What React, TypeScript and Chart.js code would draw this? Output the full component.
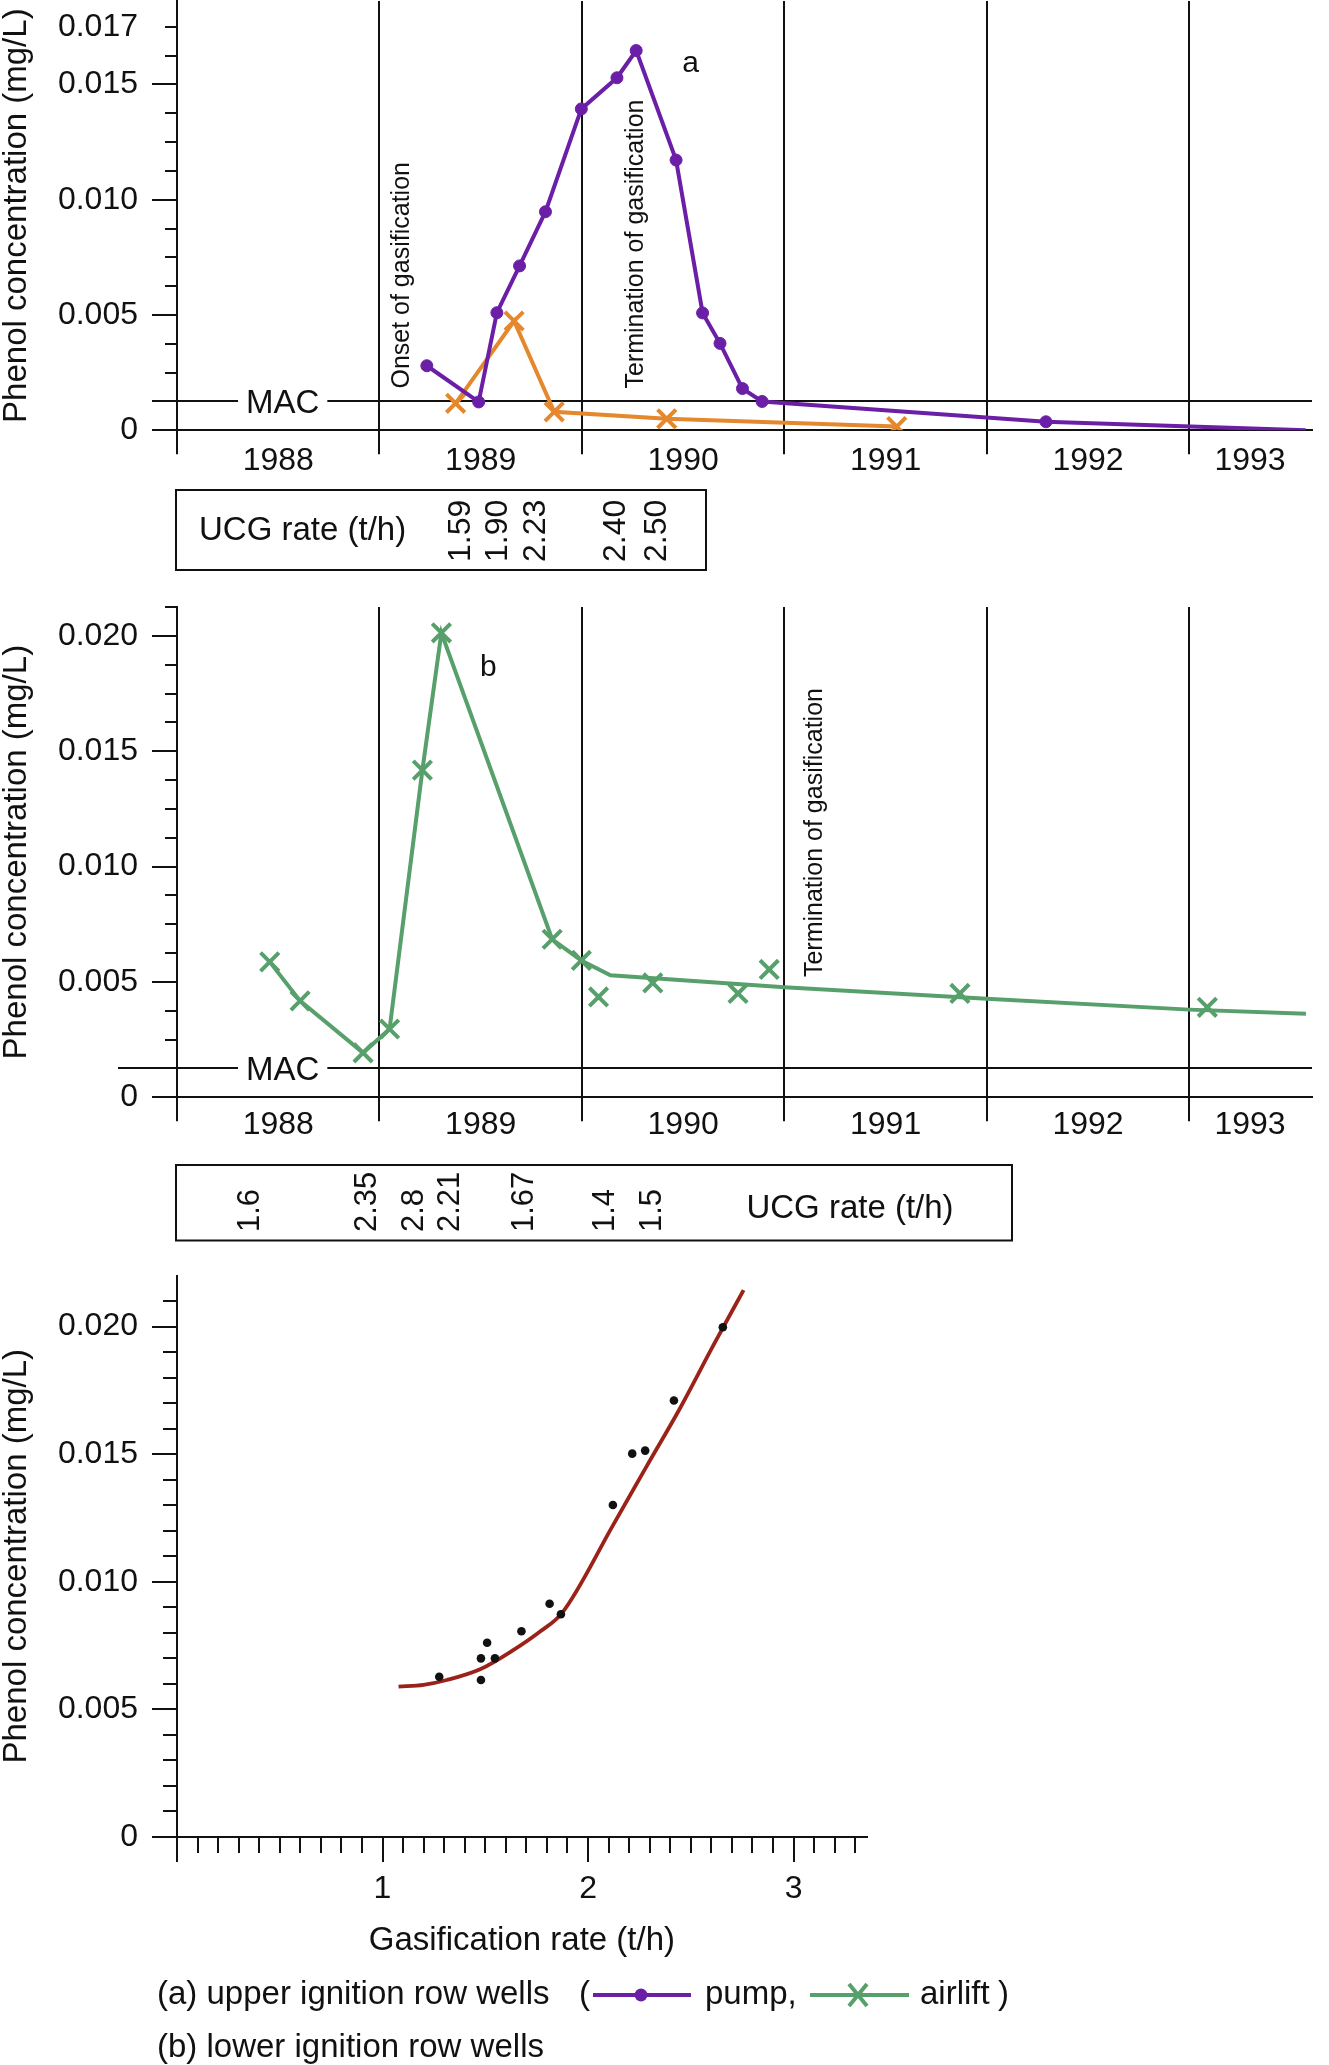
import React, { useEffect, useRef } from "react";
import { Chart, registerables } from "chart.js";

Chart.register(...registerables);

const FONT_FAMILY = "'Liberation Sans', Arial, Helvetica, sans-serif";
const INK = "#111111";
const PUMP_COLOR = "#6b1fa6";
const AIRLIFT_A_COLOR = "#e5872c";
const AIRLIFT_COLOR = "#57a06b";
const FIT_COLOR = "#9b2219";
const DOT_COLOR = "#111111";

Chart.defaults.font.family = FONT_FAMILY;
Chart.defaults.color = INK;

// ---------- shared time axis (panels a and b) ----------
const yearBoundaries = [1988, 1989, 1990, 1991, 1992, 1993];
const yearLabels = ["1988", "1989", "1990", "1991", "1992", "1993"];
const yearLabelPositions = [1988.5, 1989.5, 1990.5, 1991.5, 1992.5, 1993.3];
const TIME_MIN = 1988;
const TIME_MAX = 1993.606;
const MAC = 0.00125;
const MAC_LABEL_YEAR = 1988.522;

// ---------- panel (a): upper ignition row wells ----------
const pumpYearsA = [1989.234, 1989.49, 1989.58, 1989.692, 1989.82, 1989.997, 1990.173, 1990.268, 1990.465, 1990.596, 1990.682, 1990.793, 1990.89, 1992.292, 1993.575];
const pumpValuesA = [0.0028, 0.00123, 0.0051, 0.00713, 0.00948, 0.01394, 0.01529, 0.01647, 0.01172, 0.00509, 0.00377, 0.00181, 0.00125, 0.00037, 0.0];
const airliftYearsA = [1989.376, 1989.665, 1989.863, 1990.419, 1991.555];
const airliftValuesA = [0.00117, 0.00474, 0.0008, 0.0005, 0.00016];
const yMaxA = 0.01862;
const yTicksA = [0, 0.005, 0.01, 0.015, 0.0175];
const yTickLabelsA = ["0", "0.005", "0.010", "0.015", "0.017"];
const yMinorTicksA = [0.00125, 0.0025, 0.00375, 0.00625, 0.0075, 0.00875, 0.01125, 0.0125, 0.01375, 0.01625, 0.0175];
const ucgRatesA = ["1.59", "1.90", "2.23", "2.40", "2.50"];
const ucgRateYearsA = [1989.403, 1989.585, 1989.773, 1990.168, 1990.373];

// ---------- panel (b): lower ignition row wells ----------
const airliftYearsB = [1988.458, 1988.608, 1988.919, 1989.05, 1989.212, 1989.306, 1989.853, 1989.997, 1990.082, 1990.35, 1990.771, 1990.925, 1991.867, 1993.089];
const airliftValuesB = [0.00587, 0.00418, 0.00193, 0.00296, 0.01418, 0.02013, 0.00685, 0.00593, 0.00435, 0.00496, 0.0045, 0.00554, 0.0045, 0.0039];
const trendYearsB = [1988.458, 1988.608, 1988.919, 1989.05, 1989.212, 1989.306, 1989.853, 1989.997, 1990.141, 1991.0, 1992.0, 1993.0, 1993.576];
const trendValuesB = [0.00587, 0.00418, 0.00193, 0.00296, 0.01418, 0.02013, 0.00685, 0.00593, 0.00529, 0.00477, 0.00427, 0.0038, 0.00362];
const yMaxB = 0.02125;
const yTicksB = [0, 0.005, 0.01, 0.015, 0.02];
const yTickLabelsB = ["0", "0.005", "0.010", "0.015", "0.020"];
const yMinorTicksB = [0.00125, 0.0025, 0.00375, 0.00625, 0.0075, 0.00875, 0.01125, 0.0125, 0.01375, 0.01625, 0.0175, 0.01875, 0.02125];
const ucgRatesB = ["1.6", "2.35", "2.8", "2.21", "1.67", "1.4", "1.5"];
const ucgRateYearsB = [1988.364, 1988.942, 1989.173, 1989.352, 1989.717, 1990.114, 1990.348];

// ---------- panel (c): concentration vs gasification rate ----------
const rateObs = [1.276, 1.479, 1.509, 1.547, 1.479, 1.676, 1.813, 1.868, 2.121, 2.215, 2.278, 2.418, 2.656];
const concObs = [0.00628, 0.007, 0.00761, 0.007, 0.00615, 0.00806, 0.00914, 0.00873, 0.01301, 0.01502, 0.01514, 0.0171, 0.01997];
const rateFit = [1.078, 1.2, 1.313, 1.475, 1.638, 1.767, 1.873, 2.124, 2.287, 2.449, 2.611, 2.757];
const concFit = [0.00589, 0.00596, 0.00615, 0.00657, 0.00733, 0.00805, 0.00877, 0.01225, 0.01455, 0.01682, 0.01928, 0.02143];
const yTicksC = [0, 0.005, 0.01, 0.015, 0.02];
const yTickLabelsC = ["0", "0.005", "0.010", "0.015", "0.020"];
const yMinorTicksC = [0.001, 0.002, 0.003, 0.004, 0.006, 0.007, 0.008, 0.009, 0.011, 0.012, 0.013, 0.014, 0.016, 0.017, 0.018, 0.019, 0.021];
const xTicksC = [0, 1, 2, 3];
const xTickLabelsC = ["", "1", "2", "3"];
const xMinorTicksC = [0.1, 0.2, 0.3, 0.4, 0.5, 0.6, 0.7, 0.8, 0.9, 1.1, 1.2, 1.3, 1.4, 1.5, 1.6, 1.7, 1.8, 1.9, 2.1, 2.2, 2.3, 2.4, 2.5, 2.6, 2.7, 2.8, 2.9, 3.1, 3.2, 3.3];

const W = 1329;
// canvas placement on the page
const A_TOP = -16;
const A_H = 606;
const B_TOP = 590;
const B_H = 670;
const C_TOP = 1260;
const C_H = 805;
const C_XAXIS_H = 120.4;

function font(size: number) {
  return `${size}px ${FONT_FAMILY}`;
}

function pts(xs: number[], ys: number[]) {
  return xs.map((x, i) => ({ x, y: ys[i] }));
}

function drawRotatedText(ctx: CanvasRenderingContext2D, text: string, x: number, y: number, size: number) {
  ctx.save();
  ctx.translate(x, y);
  ctx.rotate(-Math.PI / 2);
  ctx.font = font(size);
  ctx.fillStyle = INK;
  ctx.textAlign = "left";
  ctx.textBaseline = "middle";
  ctx.fillText(text, 0, 0);
  ctx.restore();
}

function drawMinorYTicks(chart: any, values: number[], len: number) {
  const { ctx, chartArea, scales } = chart;
  ctx.save();
  ctx.strokeStyle = INK;
  ctx.lineWidth = 2;
  values.forEach((v) => {
    const py = Math.round(scales.y.getPixelForValue(v));
    ctx.beginPath();
    ctx.moveTo(chartArea.left - len, py);
    ctx.lineTo(chartArea.left, py);
    ctx.stroke();
  });
  ctx.restore();
}

function drawMAC(chart: any, leftOverhang: number) {
  const { ctx, chartArea, scales } = chart;
  const y = Math.round(scales.y.getPixelForValue(MAC));
  const cx = scales.x.getPixelForValue(MAC_LABEL_YEAR);
  ctx.save();
  ctx.font = font(33);
  const w = ctx.measureText("MAC").width;
  const gap = 8;
  ctx.strokeStyle = INK;
  ctx.lineWidth = 2;
  ctx.beginPath();
  ctx.moveTo(chartArea.left - leftOverhang, y);
  ctx.lineTo(cx - w / 2 - gap, y);
  ctx.moveTo(cx + w / 2 + gap, y);
  ctx.lineTo(chartArea.right, y);
  ctx.stroke();
  ctx.fillStyle = INK;
  ctx.textAlign = "center";
  ctx.textBaseline = "alphabetic";
  ctx.fillText("MAC", cx, y + 11.5);
  ctx.restore();
}

function drawYearLabels(chart: any, centerY: number) {
  const { ctx, scales } = chart;
  ctx.save();
  ctx.font = font(32);
  ctx.fillStyle = INK;
  ctx.textAlign = "center";
  ctx.textBaseline = "middle";
  yearLabels.forEach((t, i) => ctx.fillText(t, scales.x.getPixelForValue(yearLabelPositions[i]), centerY));
  ctx.restore();
}

function drawUcgBox(
  chart: any,
  box: { left: number; right: number; top: number; bottom: number },
  rates: string[],
  years: number[],
  numberBottom: number,
  numberSize: number,
  title: { x: number; y: number; align: CanvasTextAlign }
) {
  const { ctx, scales } = chart;
  ctx.save();
  ctx.strokeStyle = INK;
  ctx.lineWidth = 2;
  ctx.strokeRect(box.left, box.top, box.right - box.left, box.bottom - box.top);
  ctx.font = font(33);
  ctx.fillStyle = INK;
  ctx.textAlign = title.align;
  ctx.textBaseline = "middle";
  ctx.fillText("UCG rate (t/h)", title.x, title.y);
  ctx.restore();
  rates.forEach((r, i) => drawRotatedText(ctx, r, scales.x.getPixelForValue(years[i]), numberBottom, numberSize));
}

function timeAxisX() {
  return {
    type: "linear",
    min: TIME_MIN,
    max: TIME_MAX,
    afterBuildTicks: (s: any) => {
      s.ticks = yearBoundaries.map((v) => ({ value: v }));
    },
    afterFit: (s: any) => {
      s.height = 24;
      s.paddingLeft = 0;
      s.paddingRight = 0;
    },
    ticks: { display: false },
    grid: { display: true, drawOnChartArea: true, drawTicks: true, tickLength: 24, color: INK, lineWidth: 2 },
    border: { display: true, color: INK, width: 2 },
  };
}

function concAxisY(max: number, ticks: number[], labels: string[], hideTickAt: number | null) {
  return {
    type: "linear",
    min: 0,
    max,
    afterBuildTicks: (s: any) => {
      s.ticks = ticks.map((v) => ({ value: v }));
    },
    afterFit: (s: any) => {
      s.width = 177;
      s.paddingTop = 0;
      s.paddingBottom = 0;
    },
    ticks: {
      callback: (_v: any, i: number) => labels[i],
      font: { size: 32, family: FONT_FAMILY },
      color: INK,
      padding: 14,
      autoSkip: false,
    },
    grid: {
      drawOnChartArea: false,
      drawTicks: true,
      tickLength: 25,
      color: INK,
      lineWidth: 2,
      tickColor: (c: any) => (hideTickAt !== null && c.tick && c.tick.value === hideTickAt ? "rgba(0,0,0,0)" : INK),
    },
    border: { display: true, color: INK, width: 2 },
    title: {
      display: true,
      text: "Phenol concentration (mg/L)",
      font: { size: 33, family: FONT_FAMILY, lineHeight: 1 },
      color: INK,
      padding: { top: 0, bottom: 0 },
    },
  };
}

const baseOptions = {
  responsive: false,
  maintainAspectRatio: false,
  animation: false,
  devicePixelRatio: 1,
  events: [],
  plugins: { legend: { display: false }, tooltip: { enabled: false } },
};

// ---------------- Panel A ----------------
function buildPanelA(): any {
  const off = -A_TOP; // page -> canvas
  const plugin = {
    id: "panelA",
    beforeDatasetsDraw(chart: any) {
      drawMinorYTicks(chart, yMinorTicksA, 12);
      drawMAC(chart, 25);
    },
    afterDatasetsDraw(chart: any) {
      const { ctx, scales } = chart;
      drawRotatedText(ctx, "Onset of gasification", scales.x.getPixelForValue(1989.111), scales.y.getPixelForValue(0.00181), 25);
      drawRotatedText(ctx, "Termination of gasification", scales.x.getPixelForValue(1990.268), scales.y.getPixelForValue(0.00181), 25);
      ctx.save();
      ctx.font = font(30);
      ctx.fillStyle = INK;
      ctx.textAlign = "center";
      ctx.textBaseline = "alphabetic";
      ctx.fillText("a", scales.x.getPixelForValue(1990.537), scales.y.getPixelForValue(0.01556));
      ctx.restore();
    },
    afterDraw(chart: any) {
      drawYearLabels(chart, 461.5 + off);
      drawUcgBox(
        chart,
        { left: 176, right: 706, top: 490 + off, bottom: 570 + off },
        ucgRatesA,
        ucgRateYearsA,
        562 + off,
        32,
        { x: 199, y: 531 + off, align: "left" }
      );
    },
  };
  const last = pumpYearsA.length - 1;
  return {
    type: "scatter",
    data: {
      datasets: [
        {
          label: "pump",
          data: pts(pumpYearsA, pumpValuesA),
          showLine: true,
          borderColor: PUMP_COLOR,
          backgroundColor: PUMP_COLOR,
          borderWidth: 4,
          pointStyle: "circle",
          pointRadius: (c: any) => (c.dataIndex === last ? 0 : 6),
          pointBorderWidth: 1,
          pointBackgroundColor: PUMP_COLOR,
          pointBorderColor: PUMP_COLOR,
        },
        {
          label: "airlift",
          data: pts(airliftYearsA, airliftValuesA),
          showLine: true,
          borderColor: AIRLIFT_A_COLOR,
          backgroundColor: AIRLIFT_A_COLOR,
          borderWidth: 4,
          pointStyle: "crossRot",
          pointRadius: 13,
          pointBorderWidth: 4,
          pointBorderColor: AIRLIFT_A_COLOR,
        },
      ],
    },
    options: {
      ...baseOptions,
      layout: { padding: { left: 0, right: 0, top: off, bottom: A_H - (430.3 + off) - 24 } },
      scales: { x: timeAxisX(), y: concAxisY(yMaxA, yTicksA, yTickLabelsA, 0.0175) },
    },
    plugins: [plugin],
  };
}

// ---------------- Panel B ----------------
function buildPanelB(): any {
  const plugin = {
    id: "panelB",
    beforeDatasetsDraw(chart: any) {
      drawMinorYTicks(chart, yMinorTicksB, 12);
      drawMAC(chart, 59);
    },
    afterDatasetsDraw(chart: any) {
      const { ctx, scales } = chart;
      drawRotatedText(ctx, "Termination of gasification", scales.x.getPixelForValue(1991.154), scales.y.getPixelForValue(0.00521), 25);
      ctx.save();
      ctx.font = font(30);
      ctx.fillStyle = INK;
      ctx.textAlign = "center";
      ctx.textBaseline = "alphabetic";
      ctx.fillText("b", scales.x.getPixelForValue(1989.538), scales.y.getPixelForValue(0.01825));
      ctx.restore();
    },
    afterDraw(chart: any) {
      drawYearLabels(chart, 1125.3 - B_TOP);
      drawUcgBox(
        chart,
        { left: 176, right: 1012, top: 1165 - B_TOP, bottom: 1240.5 - B_TOP },
        ucgRatesB,
        ucgRateYearsB,
        1232 - B_TOP,
        31,
        { x: 850, y: 1208.8 - B_TOP, align: "center" }
      );
    },
  };
  return {
    type: "scatter",
    data: {
      datasets: [
        {
          label: "airlift trend",
          data: pts(trendYearsB, trendValuesB),
          showLine: true,
          borderColor: AIRLIFT_COLOR,
          borderWidth: 4,
          pointRadius: 0,
        },
        {
          label: "airlift",
          data: pts(airliftYearsB, airliftValuesB),
          showLine: false,
          pointStyle: "crossRot",
          pointRadius: 13,
          pointBorderWidth: 4,
          pointBorderColor: AIRLIFT_COLOR,
          pointBackgroundColor: AIRLIFT_COLOR,
        },
      ],
    },
    options: {
      ...baseOptions,
      layout: { padding: { left: 0, right: 0, top: 606 - B_TOP, bottom: B_H - (1097.3 - B_TOP) - 24 } },
      scales: { x: timeAxisX(), y: concAxisY(yMaxB, yTicksB, yTickLabelsB, null) },
    },
    plugins: [plugin],
  };
}

// ---------------- Panel C ----------------
function buildPanelC(): any {
  const plugin = {
    id: "panelC",
    beforeDatasetsDraw(chart: any) {
      drawMinorYTicks(chart, yMinorTicksC, 14);
      const { ctx, chartArea, scales } = chart;
      ctx.save();
      ctx.strokeStyle = INK;
      ctx.lineWidth = 2;
      xMinorTicksC.forEach((v) => {
        const px = Math.round(scales.x.getPixelForValue(v));
        ctx.beginPath();
        ctx.moveTo(px, chartArea.bottom);
        ctx.lineTo(px, chartArea.bottom + 16);
        ctx.stroke();
      });
      ctx.restore();
    },
    afterDraw(chart: any) {
      const { ctx } = chart;
      const y1 = 1995 - C_TOP;
      const y2 = 2048 - C_TOP;
      ctx.save();
      ctx.font = font(33);
      ctx.fillStyle = INK;
      ctx.textAlign = "left";
      ctx.textBaseline = "middle";
      ctx.fillText("(a) upper ignition row wells", 157, y1);
      ctx.fillText("(", 579, y1);
      ctx.fillText("pump,", 705, y1);
      ctx.fillText("airlift", 920, y1);
      ctx.fillText(")", 998, y1);
      ctx.fillText("(b) lower ignition row wells", 157, y2);
      // pump sample
      ctx.strokeStyle = PUMP_COLOR;
      ctx.lineWidth = 4;
      ctx.beginPath();
      ctx.moveTo(593, y1);
      ctx.lineTo(691, y1);
      ctx.stroke();
      ctx.fillStyle = PUMP_COLOR;
      ctx.beginPath();
      ctx.arc(641, y1, 6.5, 0, Math.PI * 2);
      ctx.fill();
      // airlift sample
      ctx.strokeStyle = AIRLIFT_COLOR;
      ctx.beginPath();
      ctx.moveTo(810, y1);
      ctx.lineTo(909, y1);
      ctx.stroke();
      ctx.lineWidth = 4;
      ctx.beginPath();
      ctx.moveTo(858 - 9, y1 - 11);
      ctx.lineTo(858 + 9, y1 + 11);
      ctx.moveTo(858 + 9, y1 - 11);
      ctx.lineTo(858 - 9, y1 + 11);
      ctx.stroke();
      ctx.restore();
    },
  };
  return {
    type: "scatter",
    data: {
      datasets: [
        {
          label: "observed",
          data: pts(rateObs, concObs),
          showLine: false,
          pointStyle: "circle",
          pointRadius: 4.3,
          pointBorderWidth: 0,
          pointBackgroundColor: DOT_COLOR,
        },
        {
          label: "fit",
          data: pts(rateFit, concFit),
          showLine: true,
          borderColor: FIT_COLOR,
          borderWidth: 3.8,
          pointRadius: 0,
          cubicInterpolationMode: "monotone",
        },
      ],
    },
    options: {
      ...baseOptions,
      layout: { padding: { left: 0, right: W - 866.7, top: 1275.5 - C_TOP, bottom: C_H - (1837 - C_TOP) - C_XAXIS_H } },
      scales: {
        x: {
          type: "linear",
          min: 0,
          max: 3.356,
          afterBuildTicks: (s: any) => {
            s.ticks = xTicksC.map((v) => ({ value: v }));
          },
          afterFit: (s: any) => {
            s.height = C_XAXIS_H;
            s.paddingLeft = 0;
            s.paddingRight = 0;
          },
          ticks: {
            callback: (_v: any, i: number) => xTickLabelsC[i],
            font: { size: 32, family: FONT_FAMILY },
            color: INK,
            padding: 8,
            maxRotation: 0,
            autoSkip: false,
          },
          grid: { drawOnChartArea: false, drawTicks: true, tickLength: 25, color: INK, lineWidth: 2 },
          border: { display: true, color: INK, width: 2 },
          title: {
            display: true,
            text: "Gasification rate (t/h)",
            font: { size: 33, family: FONT_FAMILY, lineHeight: 1 },
            color: INK,
            padding: { top: 0, bottom: 0 },
          },
        },
        y: concAxisY(0.022, yTicksC, yTickLabelsC, null),
      },
    },
    plugins: [plugin],
  };
}

function ChartCanvas({ top, height, build }: { top: number; height: number; build: () => any }) {
  const ref = useRef<HTMLCanvasElement | null>(null);
  useEffect(() => {
    const chart = new Chart(ref.current as HTMLCanvasElement, build());
    return () => chart.destroy();
  }, []);
  return (
    <canvas
      ref={ref}
      width={W}
      height={height}
      style={{ position: "absolute", left: 0, top, width: W, height, display: "block" }}
    />
  );
}

export default function App() {
  useEffect(() => {
    document.body.style.margin = "0";
    document.body.style.overflow = "hidden";
  }, []);
  return (
    <div style={{ position: "absolute", left: 0, top: 0, width: W, height: 2065, background: "#ffffff", overflow: "hidden" }}>
      <ChartCanvas top={A_TOP} height={A_H} build={buildPanelA} />
      <ChartCanvas top={B_TOP} height={B_H} build={buildPanelB} />
      <ChartCanvas top={C_TOP} height={C_H} build={buildPanelC} />
    </div>
  );
}
